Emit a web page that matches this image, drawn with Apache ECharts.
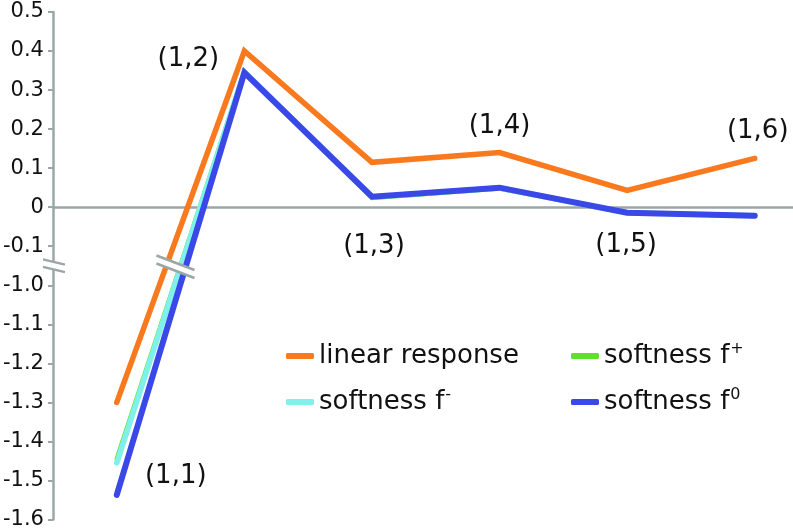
<!DOCTYPE html>
<html>
<head>
<meta charset="utf-8">
<script src="https://cdn.jsdelivr.net/npm/echarts@6/dist/echarts.min.js"></script>
<style>
  html, body { margin: 0; padding: 0; background: #ffffff; }
  #chart { width: 793px; height: 530px; }
</style>
</head>
<body>
<div id="chart"></div>
<script>
// ---- data ----
const categories = ['(1,1)', '(1,2)', '(1,3)', '(1,4)', '(1,5)', '(1,6)'];
const xPositions = [1, 2, 3, 4, 5, 6];
const linearResponse = [-1.30, 0.40, 0.115, 0.14, 0.043, 0.125];
const softnessPlus   = [-1.445, 0.348, 0.024, 0.048, -0.014, -0.022];
const softnessMinus  = [-1.455, 0.347, 0.026, 0.049, -0.014, -0.022];
const softnessZero   = [-1.537, 0.345, 0.027, 0.050, -0.014, -0.022];
const seriesNames = ['linear response', 'softness f+', 'softness f-', 'softness f0'];
const superscripts = { 'softness f+': '+', 'softness f-': '-', 'softness f0': '0' };
// broken y axis: upper part 0.5 .. -0.1, lower part -1.0 .. -1.6
const upperMin = -0.1, lowerMax = -1.0, axisShift = 0.8; // -1.0 drawn one step below -0.1

// ---- styles ----
const colors = ['#f97a1e', '#5fe02a', '#80f0ea', '#3a48e8'];
const widths = [5.5, 4.5, 5.5, 6];
const axisColor = '#9aa7a5';
const labelOffsets = [[59, 74], [-56, 8], [2, 84], [0, -26], [-1, 55], [3, -27]];

function tf(v) { return v < (upperMin + lowerMax) / 2 ? v + axisShift : v; }
function untf(v) { return v < -0.15 ? v - axisShift : v; }

const chart = echarts.init(document.getElementById('chart'), null, { renderer: 'canvas' });

function lineSeries(name, values, idx, withLabels) {
  return {
    name: name,
    type: 'line',
    data: values.map((v, i) => {
      const item = { value: [xPositions[i], tf(v)] };
      if (withLabels) {
        item.label = {
          show: true, position: 'inside', offset: labelOffsets[i],
          formatter: () => categories[i],
          fontFamily: 'DejaVu Sans', fontSize: 26, color: '#111'
        };
      }
      return item;
    }),
    symbol: 'circle',
    symbolSize: 2,
    showSymbol: true,
    itemStyle: { color: colors[idx] },
    lineStyle: { color: colors[idx], width: widths[idx], cap: 'round', join: 'miter' },
    z: 2 + idx,
    silent: true,
    animation: false
  };
}

const legendText = {
  fontFamily: 'DejaVu Sans', fontSize: 26, color: '#111', lineHeight: 30,
  rich: {
    t: { fontFamily: 'DejaVu Sans', fontSize: 26, color: '#111', lineHeight: 30 },
    s: { fontFamily: 'DejaVu Sans', fontSize: 16, color: '#111', lineHeight: 16, verticalAlign: 'top', padding: [0, 0, 0, 1] }
  }
};
function legendFormatter(name) {
  if (superscripts[name] !== undefined) {
    return '{t|softness f}{s|' + superscripts[name] + '}';
  }
  return '{t|' + name + '}';
}
function legendData(names) {
  return names.map(n => ({ name: n, icon: 'roundRect', itemStyle: { color: colors[seriesNames.indexOf(n)], opacity: 1 } }));
}

const option = {
  backgroundColor: '#ffffff',
  animation: false,
  grid: { left: 51, right: 0, top: 12, bottom: 7, containLabel: false },
  legend: [
    {
      orient: 'vertical', left: 281, top: 336, itemGap: 16,
      itemWidth: 28, itemHeight: 6, selectedMode: false,
      data: legendData([seriesNames[0], seriesNames[2]]),
      formatter: legendFormatter, textStyle: legendText
    },
    {
      orient: 'vertical', left: 566, top: 336, itemGap: 16,
      itemWidth: 28, itemHeight: 6, selectedMode: false,
      data: legendData([seriesNames[1], seriesNames[3]]),
      formatter: legendFormatter, textStyle: legendText
    }
  ],
  xAxis: {
    type: 'value', min: 0.5, max: 6.3,
    axisLine: { show: true, onZero: true, lineStyle: { color: axisColor, width: 2.5 } },
    axisTick: { show: false }, axisLabel: { show: false }, splitLine: { show: false }
  },
  yAxis: {
    type: 'value', min: tf(-1.6), max: 0.5, interval: 0.1,
    axisLine: { show: true, lineStyle: { color: axisColor, width: 2.5 } },
    axisTick: { show: true, length: 5, lineStyle: { color: axisColor, width: 2 } },
    splitLine: { show: false },
    axisLabel: {
      margin: 9, fontFamily: 'DejaVu Sans', fontSize: 21, color: '#111',
      formatter: function (value) {
        const v = Math.round(untf(Math.round(value * 10) / 10) * 10) / 10;
        if (v === 0) return '0';
        return v.toFixed(1);
      }
    }
  },
  series: [
    lineSeries(seriesNames[0], linearResponse, 0, true),
    lineSeries(seriesNames[1], softnessPlus, 1, false),
    lineSeries(seriesNames[2], softnessMinus, 2, false),
    lineSeries(seriesNames[3], softnessZero, 3, false)
  ]
};
chart.setOption(option);

// ---- break marks (decoration, positioned through the axes) ----
function breakMark(cx, cy, halfW, slope, gap) {
  const dy = halfW * slope;
  const p1 = [cx - halfW, cy - gap / 2 - dy], p2 = [cx + halfW, cy - gap / 2 + dy];
  const p3 = [cx + halfW, cy + gap / 2 + dy], p4 = [cx - halfW, cy + gap / 2 - dy];
  return [
    { type: 'polygon', shape: { points: [p1, p2, p3, p4] }, style: { fill: '#ffffff' }, z: 100, silent: true },
    { type: 'line', shape: { x1: p1[0], y1: p1[1], x2: p2[0], y2: p2[1] }, style: { stroke: axisColor, lineWidth: 2.5 }, z: 101, silent: true },
    { type: 'line', shape: { x1: p4[0], y1: p4[1], x2: p3[0], y2: p3[1] }, style: { stroke: axisColor, lineWidth: 2.5 }, z: 101, silent: true }
  ];
}
const breakY = (upperMin + tf(lowerMax)) / 2;
const axisBreak = chart.convertToPixel({ gridIndex: 0 }, [0.5, breakY]);
const lineBreak = chart.convertToPixel({ gridIndex: 0 }, [1.46, breakY]);
chart.setOption({
  graphic: [].concat(
    breakMark(axisBreak[0] + 1, axisBreak[1], 11, 0.24, 7.5),
    breakMark(lineBreak[0], lineBreak[1] + 1, 19, 0.38, 8)
  )
});
</script>
</body>
</html>
